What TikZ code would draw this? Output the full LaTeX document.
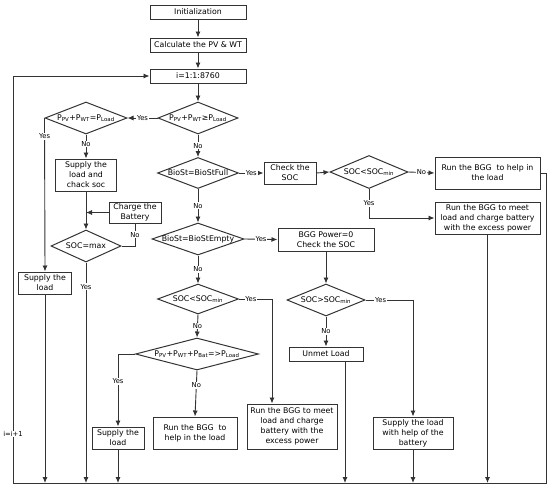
\documentclass[tikz,border=0pt]{standalone}
\usepackage{fontspec}
\setmainfont{DejaVu Sans}
\usetikzlibrary{shapes.geometric,arrows.meta}
\newcommand{\nowidth}[1]{\makebox[0pt]{#1}}

\begin{document}
\begin{tikzpicture}[x=1pt,y=-1pt,
  font=\fontsize{7.8}{10}\selectfont,
  >={Latex[length=6pt,width=5pt]},
  line width=0.9pt, draw=black!80,
  box/.style={draw, line width=1pt, align=center, inner sep=1pt},
  test/.style={draw, diamond, line width=1pt, inner sep=0pt, minimum height=32pt},
  lbl/.style={fill=white, inner sep=0.8pt, font=\fontsize{6.8}{8}\selectfont}]
\useasboundingbox (0,0) rectangle (550,488);
\coordinate (bl) at (13,483);
\coordinate (br) at (546,483);
% main column
\node[box, minimum width=96pt, minimum height=14pt] (init) at (198,12) {Initialization};
\node[box, minimum width=96pt, minimum height=14pt] (calc) at (198,45) {Calculate the PV \& WT};
\node[box, minimum width=96pt, minimum height=14pt] (loop) at (198,76) {i=1:1:8760};
\node[test, minimum width=80pt] (sum) at (198,118) {\nowidth{P\textsubscript{PV}+P\textsubscript{WT}≥P\textsubscript{Load}}};
\node[test, minimum width=81pt, minimum height=31pt] (full) at (198,173) {\nowidth{BioSt=BioStFull}};
\node[test, minimum width=92pt] (empty) at (198,239) {\nowidth{BioSt=BioStEmpty}};
\node[test, minimum width=81pt, minimum height=30pt] (soclow) at (198,299) {\nowidth{SOC<SOC\textsubscript{min}}};
\node[test, minimum width=123pt] (total) at (197,354) {\nowidth{P\textsubscript{PV}+P\textsubscript{WT}+P\textsubscript{Bat}=>P\textsubscript{Load}}};
% left branch
\node[test, minimum width=82pt] (equal) at (86,118) {\nowidth{P\textsubscript{PV}+P\textsubscript{WT}=P\textsubscript{Load}}};
\node[box, minimum width=61pt, minimum height=32pt] (feed) at (86,175) {Supply the\\load and\\chack soc};
\node[test, minimum width=70pt] (socmax) at (86,246) {\nowidth{SOC=max}};
\node[box, minimum width=52pt, minimum height=21pt] (charge) at (135,212.5) {Charge the\\Battery};
\node[box, minimum width=53pt, minimum height=22pt] (direct) at (45,283) {Supply the\\load};
% right branches
\node[box, minimum width=52pt, minimum height=22pt] (check) at (290,173) {Check the\\SOC};
\node[test, minimum width=78pt, minimum height=33pt] (socfull) at (369,172) {\nowidth{SOC<SOC\textsubscript{min}}};
\node[box, minimum width=105pt, minimum height=32pt] (bggrun) at (487.5,173) {Run the BGG\ \ to help in\\the load};
\node[box, minimum width=105pt, minimum height=32pt] (bggcharge) at (487.5,218) {Run the BGG to meet\\load and charge battery\\with the excess power};
\node[box, minimum width=96pt, minimum height=23pt] (bggoff) at (326,239.5) {BGG Power=0\\Check the SOC};
\node[test, minimum width=78pt] (socempty) at (326,300) {\nowidth{SOC>SOC\textsubscript{min}}};
\node[box, minimum width=74pt, minimum height=14pt] (unmet) at (326,354) {Unmet Load};
\node[box, minimum width=80pt, minimum height=32pt] (battery) at (413,433) {Supply the load\\with help of the\\battery};
% bottom row
\node[box, minimum width=52pt, minimum height=22pt] (supply) at (118,438) {Supply the\\load};
\node[box, minimum width=84pt, minimum height=32pt] (bgghelp) at (195,433) {Run the BGG\ \ to\\help in the load};
\node[box, minimum width=90pt, minimum height=45pt] (bggmeet) at (292,426.5) {Run the BGG to meet\\load and charge\\battery with the\\excess power};
% connectors
\draw[->] (init) -- (calc);
\draw[->] (calc) -- (loop);
\draw[->] (loop) -- (sum);
\draw[->] (sum.west) -- node[lbl] {Yes} (equal.east);
\draw[->] (equal.west) -- node[lbl, pos=0.12] {Yes} (direct.north);
\draw[->] (equal.south) -- node[lbl, pos=0.4] {No} (feed.north);
\draw[->] (feed) -- (socmax);
\draw[->] (charge.west) -- (charge.west -| feed.south);
\draw (socmax.east) -| node[lbl, pos=0.75] {No} (charge.south);
\draw[->] (socmax.south) -- node[lbl, pos=0.11] {Yes} (socmax.south |- bl);
\draw[->] (direct.south) -- (direct.south |- bl);
\draw[->] (sum.south) -- node[lbl] {No} (full.north);
\draw[->] (full.east) -- node[lbl] {Yes} (check.west);
\draw[->] (check.east) -- (socfull.west);
\draw[->] (socfull.east) -- node[lbl] {No} (bggrun.west);
\draw[->] (socfull.south) |- node[lbl, pos=0.25] {Yes} (bggcharge.west);
\draw[->] (bggcharge.south) -- (bggcharge.south |- bl);
\draw[->] (bggrun.east) -| (br) -- (bl) |- (loop.west);
\node[lbl] (incr) at (13,434) {i=i+1};
\draw[->] (full.south) -- node[lbl] {No} (empty.north);
\draw[->] (empty.east) -- node[lbl] {Yes} (bggoff.west);
\draw[->] (bggoff) -- (socempty);
\draw[->] (socempty.east) -| node[lbl, pos=0.16] {Yes} (battery.north);
\draw[->] (socempty.south) -- node[lbl] {No} (unmet.north);
\draw[->] ([xshift=19pt]unmet.south) -- ([xshift=19pt]unmet.south |- bl);
\draw[->] (battery.south) -- (battery.south |- bl);
\draw[->] (empty.south) -- node[lbl] {No} (soclow.north);
\draw[->] (soclow.east) -| node[lbl, pos=0.18] {Yes} ([xshift=-20pt]bggmeet.north);
\draw[->] (soclow.south) -- node[lbl] {No} (total.north);
\draw[->] (total.west) -| node[lbl, pos=0.69] {Yes} (supply.north);
\draw[->] (total.south) -- node[lbl, pos=0.32] {No} (bgghelp.north);
\draw[->] (supply.south) -- (supply.south |- bl);
\end{tikzpicture}
\end{document}
